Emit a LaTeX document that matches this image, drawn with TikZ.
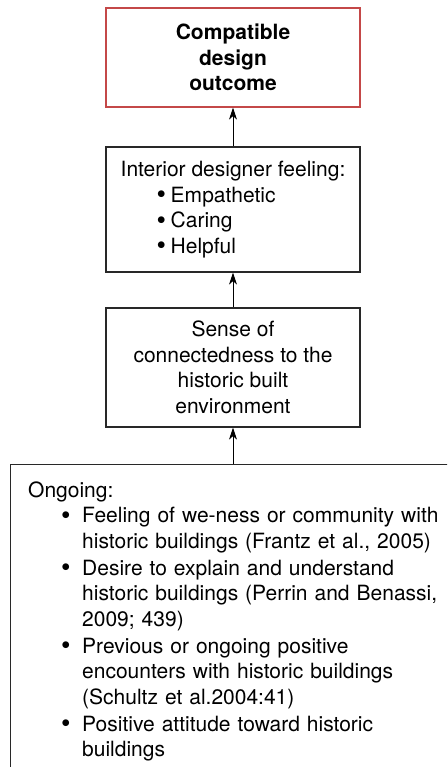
\documentclass[tikz,border=0pt]{standalone}
\usepackage{fontspec}
\setmainfont{TeX Gyre Heros}
\usetikzlibrary{arrows.meta}
\definecolor{boxred}{RGB}{196,72,72}
\definecolor{boxline}{RGB}{40,40,40}
% a slightly enlarged bullet in a box of fixed width
\newcommand{\itemdot}[1]{\makebox[#1][l]{\raisebox{-1.6pt}{\fontsize{27}{0}\selectfont\textbullet}}}
\begin{document}
\begin{tikzpicture}[x=1pt,y=-1pt,
  every node/.style={font=\fontsize{21}{25.5}\selectfont, inner sep=0pt},
  stagebox/.style={draw=boxline, line width=1.2pt, minimum width=254pt},
  goalbox/.style={draw=boxred, line width=1.2pt, minimum width=254pt},
  arr/.style={-{Stealth[length=12pt,width=8pt,inset=3.5pt]}, line width=1pt, black}]
\useasboundingbox (0,0) rectangle (447,767);
\clip (0,0) rectangle (447,767);
\fill[white] (0,0) rectangle (447,767);

% outcome
\node[goalbox, minimum height=99pt, align=center, font=\fontsize{21}{25.5}\selectfont\bfseries]
  (outcome) at (233,57.5) {Compatible\\design\\outcome};

% designer feeling
\node[stagebox, minimum height=125pt, align=left]
  (feeling) at (233,209.5) {Interior designer feeling:\\
  \hspace*{36pt}\itemdot{14pt}Empathetic\\
  \hspace*{36pt}\itemdot{14pt}Caring\\
  \hspace*{36pt}\itemdot{14pt}Helpful};

% connectedness
\node[stagebox, minimum height=119pt, align=center]
  (sense) at (233,367.5) {Sense of\\connectedness to the\\historic built\\environment};

% ongoing factors (box runs past the page edge)
\node[draw=boxline, line width=1.2pt, anchor=north west, minimum width=480pt, minimum height=340pt]
  (source) at (10,464) {};
\node[anchor=base west, text width=420pt, align=left] (ongoing) at (28,497) {Ongoing:\\
  \hspace*{33pt}\itemdot{21pt}Feeling of we-ness or community with\\
  \hspace*{54pt}historic buildings (Frantz et al., 2005)\\[1.5pt]
  \hspace*{33pt}\itemdot{21pt}Desire to explain and understand\\
  \hspace*{54pt}historic buildings (Perrin and Benassi,\\
  \hspace*{54pt}2009; 439)\\[1.5pt]
  \hspace*{33pt}\itemdot{21pt}Previous or ongoing positive\\
  \hspace*{54pt}encounters with historic buildings\\
  \hspace*{54pt}(Schultz et al.2004:41)\\[1.5pt]
  \hspace*{33pt}\itemdot{21pt}Positive attitude toward historic\\
  \hspace*{54pt}buildings};

% connectors
\draw[arr] (source.north -| sense.south) -- (sense.south);
\draw[arr] (sense.north) -- (feeling.south);
\draw[arr] (feeling.north) -- (outcome.south);
\end{tikzpicture}
\end{document}
